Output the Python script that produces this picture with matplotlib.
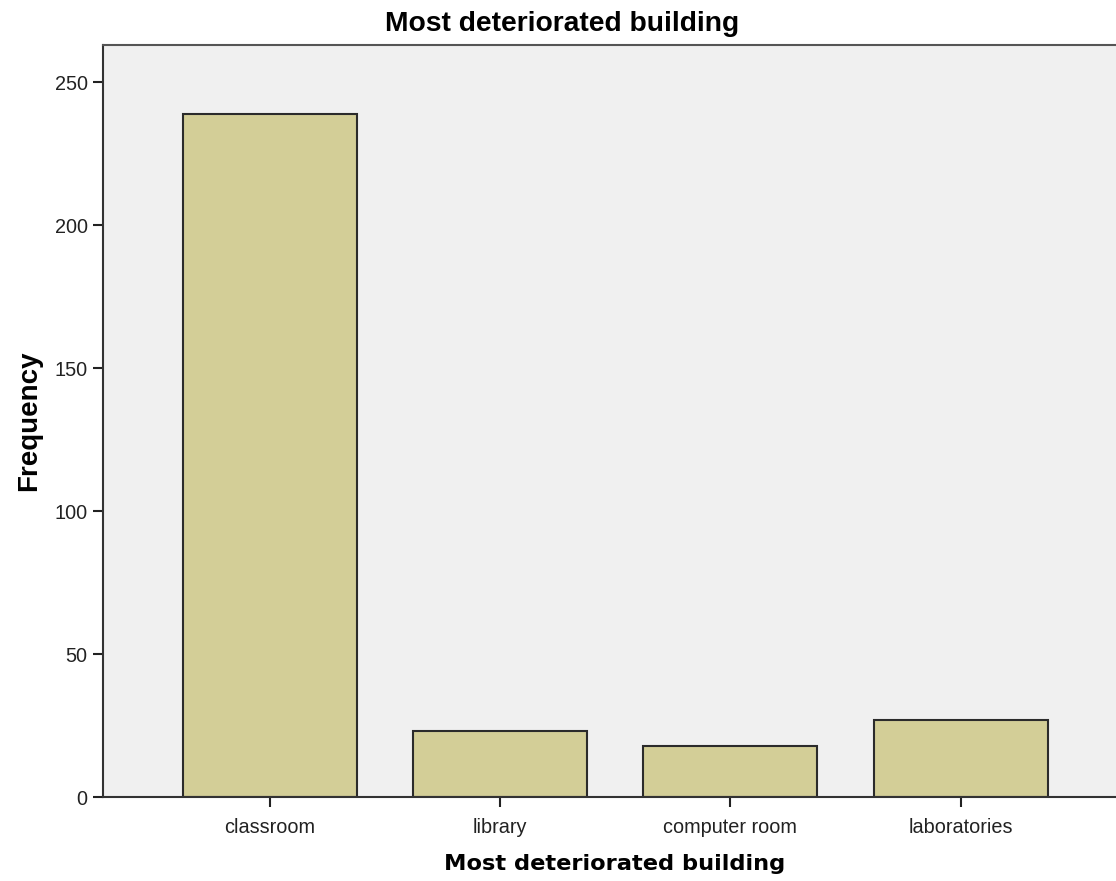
import numpy as np
import matplotlib
matplotlib.use("Agg")
import matplotlib.pyplot as plt

# data
categories = ["classroom", "library", "computer room", "laboratories"]
frequency = [239, 23, 18, 27]
yticks = [0, 50, 100, 150, 200, 250]

plt.rcParams['font.family'] = ['Liberation Sans', 'DejaVu Sans']

fig = plt.figure(figsize=(11.16, 8.81), dpi=100)
ax = fig.add_axes([0.0923, 0.0953, 0.9171, 0.8536])
ax.set_facecolor('#F0F0F0')

x = np.arange(len(categories))
ax.bar(x, frequency, width=0.755, color='#D3CE97', edgecolor='#2b2b2b', linewidth=1.5, zorder=2)

ax.set_xlim(-0.723, 3.72)
ax.set_ylim(0, 263)
ax.set_yticks(yticks)
ax.set_xticks(x)
ax.set_xticklabels(categories)
ax.tick_params(axis='both', labelsize=14.3, colors='#222222', length=7, width=1.5, direction='out')
ax.tick_params(axis='x', pad=8)
ax.tick_params(axis='y', pad=4)

for side in ['left', 'bottom', 'top']:
    ax.spines[side].set_color('#333333')
    ax.spines[side].set_linewidth(1.5)
ax.spines['top'].set_color('#555555')
ax.spines['right'].set_visible(False)

ax.set_ylabel('Frequency', fontsize=20, fontweight='bold', labelpad=9)
ax.set_xlabel('Most deteriorated building', fontsize=16.2, fontweight='bold',
              family='DejaVu Sans', labelpad=12)
fig.text(0.504, 0.973, 'Most deteriorated building', ha='center', va='center',
         fontsize=20.3, fontweight='bold')

fig.savefig('out.png', dpi=100)
